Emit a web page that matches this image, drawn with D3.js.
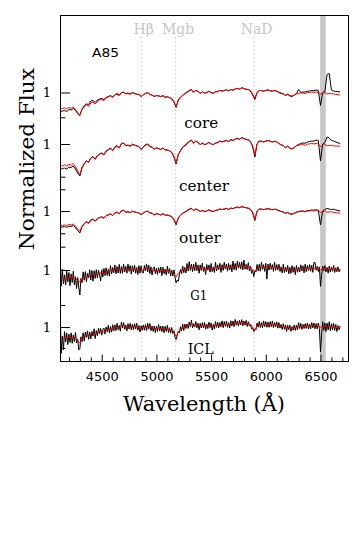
<!DOCTYPE html>
<html><head><meta charset="utf-8">
<script src="https://cdn.jsdelivr.net/npm/d3@7"></script>
<style>html,body{margin:0;padding:0;background:#fff}</style>
</head><body>
<svg id="c" width="360" height="540" xmlns="http://www.w3.org/2000/svg"></svg>
<script>
// ---------------- DATA ----------------
// wavelength grid (Angstrom), 20 A steps: models and bright spectra
const wlA = [4120,4140,4160,4180,4200,4220,4240,4260,4280,4300,
4320,4340,4360,4380,4400,4420,4440,4460,4480,4500,
4520,4540,4560,4580,4600,4620,4640,4660,4680,4700,
4720,4740,4760,4780,4800,4820,4840,4860,4880,4900,
4920,4940,4960,4980,5000,5020,5040,5060,5080,5100,
5120,5140,5160,5180,5200,5220,5240,5260,5280,5300,
5320,5340,5360,5380,5400,5420,5440,5460,5480,5500,
5520,5540,5560,5580,5600,5620,5640,5660,5680,5700,
5720,5740,5760,5780,5800,5820,5840,5860,5880,5900,
5920,5940,5960,5980,6000,6020,6040,6060,6080,6100,
6120,6140,6160,6180,6200,6220,6240,6260,6280,6300,
6320,6340,6360,6380,6400,6420,6440,6460,6480,6500,
6520,6540,6560,6580,6600,6620,6640,6660,6680];
// wavelength grid (Angstrom), 10 A steps: noisy faint spectra
const wlB = [4120,4130,4140,4150,4160,4170,4180,4190,4200,4210,
4220,4230,4240,4250,4260,4270,4280,4290,4300,4310,
4320,4330,4340,4350,4360,4370,4380,4390,4400,4410,
4420,4430,4440,4450,4460,4470,4480,4490,4500,4510,
4520,4530,4540,4550,4560,4570,4580,4590,4600,4610,
4620,4630,4640,4650,4660,4670,4680,4690,4700,4710,
4720,4730,4740,4750,4760,4770,4780,4790,4800,4810,
4820,4830,4840,4850,4860,4870,4880,4890,4900,4910,
4920,4930,4940,4950,4960,4970,4980,4990,5000,5010,
5020,5030,5040,5050,5060,5070,5080,5090,5100,5110,
5120,5130,5140,5150,5160,5170,5180,5190,5200,5210,
5220,5230,5240,5250,5260,5270,5280,5290,5300,5310,
5320,5330,5340,5350,5360,5370,5380,5390,5400,5410,
5420,5430,5440,5450,5460,5470,5480,5490,5500,5510,
5520,5530,5540,5550,5560,5570,5580,5590,5600,5610,
5620,5630,5640,5650,5660,5670,5680,5690,5700,5710,
5720,5730,5740,5750,5760,5770,5780,5790,5800,5810,
5820,5830,5840,5850,5860,5870,5880,5890,5900,5910,
5920,5930,5940,5950,5960,5970,5980,5990,6000,6010,
6020,6030,6040,6050,6060,6070,6080,6090,6100,6110,
6120,6130,6140,6150,6160,6170,6180,6190,6200,6210,
6220,6230,6240,6250,6260,6270,6280,6290,6300,6310,
6320,6330,6340,6350,6360,6370,6380,6390,6400,6410,
6420,6430,6440,6450,6460,6470,6480,6490,6500,6510,
6520,6530,6540,6550,6560,6570,6580,6590,6600,6610,
6620,6630,6640,6650,6660,6670,6680];

// core
const coreObs = [.81,.815,.82,.81,.83,.825,.84,.82,.79,.77,
.835,.87,.885,.88,.915,.92,.9,.925,.935,.94,
.93,.95,.96,.97,.955,.978,.99,.972,.998,1.0,
.99,.995,.985,1.0,.992,.98,.982,.958,.978,.99,
1.0,.982,.972,.962,.968,.967,.96,.968,.95,.958,
.948,.935,.905,.85,.925,.955,.97,.99,1.005,1.02,
1.03,1.0,1.025,1.012,.99,1.008,.992,1.0,1.015,.998,
.993,1.008,1.01,1.022,1.013,1.02,1.028,1.015,1.03,1.022,
1.035,1.042,1.033,1.048,1.04,1.03,1.03,1.015,.975,.93,
.998,1.022,1.018,1.012,1.022,1.025,1.018,1.012,1.02,1.012,
1.0,.99,.985,.97,.98,.965,.96,.975,.99,1.03,
1.0,1.005,1.005,1.012,1.015,1.02,1.018,1.025,1.02,.87,
1.0,1.01,1.18,1.19,1.025,1.015,1.01,1.008,1.005];
const coreModel = [.835,.84,.845,.838,.85,.843,.855,.832,.80,.775,
.83,.855,.875,.862,.895,.905,.885,.91,.925,.93,
.918,.945,.955,.965,.95,.975,.982,.968,1.0,1.005,
.985,.99,.983,.995,.99,.985,.98,.962,.975,.992,
.995,.98,.975,.96,.97,.965,.958,.97,.955,.955,
.95,.94,.91,.86,.92,.95,.975,.985,1.0,1.015,
1.025,1.005,1.02,1.01,.995,1.005,.995,1.0,1.01,1.0,
.995,1.005,1.01,1.02,1.015,1.02,1.025,1.018,1.03,1.025,
1.035,1.04,1.035,1.045,1.04,1.035,1.03,1.02,.985,.945,
1.0,1.02,1.02,1.015,1.02,1.025,1.02,1.015,1.02,1.015,
1.005,.995,.99,.975,.985,.97,.965,.975,.985,.99,
.995,.995,.99,1.0,1.0,1.005,1.0,1.005,1.0,.985,
.99,1.0,.985,.99,.99,.985,.98,.978,.975];

// center
const centerObs = [.745,.755,.76,.75,.77,.765,.78,.75,.71,.68,
.76,.8,.83,.82,.86,.875,.85,.885,.9,.91,
.895,.93,.945,.96,.935,.97,.985,.96,1.005,1.01,
.985,.99,.98,.998,.99,.982,.975,.945,.97,.995,
1.0,.978,.97,.95,.962,.955,.945,.962,.94,.942,
.93,.915,.87,.8,.895,.935,.97,.985,1.008,1.025,
1.04,1.01,1.03,1.018,.995,1.01,.995,1.002,1.018,1.0,
.995,1.01,1.015,1.03,1.022,1.03,1.036,1.025,1.045,1.035,
1.05,1.058,1.048,1.065,1.055,1.045,1.04,1.025,.97,.87,
1.0,1.03,1.028,1.02,1.03,1.036,1.028,1.02,1.028,1.02,
1.005,.99,.983,.962,.978,.955,.95,.965,.985,.995,
1.005,1.01,1.008,1.02,1.025,1.03,1.028,1.04,1.035,.83,
1.0,1.015,1.07,1.06,1.035,1.03,1.02,1.012,1.005];
const centerModel = [.777,.784,.791,.781,.797,.788,.804,.773,.73,.696,
.77,.804,.831,.814,.858,.872,.845,.878,.899,.905,
.889,.926,.939,.953,.932,.966,.976,.957,1.0,1.007,
.98,.986,.977,.993,.986,.98,.973,.949,.966,.989,
.993,.973,.966,.946,.96,.953,.943,.96,.939,.939,
.932,.919,.878,.811,.892,.932,.966,.98,1.0,1.02,
1.034,1.007,1.027,1.014,.993,1.007,.993,1.0,1.014,1.0,
.993,1.007,1.014,1.027,1.02,1.027,1.034,1.024,1.041,1.034,
1.047,1.054,1.047,1.061,1.054,1.047,1.041,1.027,.98,.895,
1.0,1.027,1.027,1.02,1.027,1.034,1.027,1.02,1.027,1.02,
1.007,.993,.986,.966,.98,.96,.953,.966,.98,.986,
.993,.993,.986,1.0,1.0,1.007,1.0,1.007,1.0,.975,
.986,1.0,.98,.986,.986,.982,.98,.978,.978];

// outer
const outerObs = [.835,.84,.845,.835,.85,.845,.855,.835,.805,.78,
.845,.875,.895,.88,.912,.92,.9,.925,.935,.942,
.93,.955,.962,.972,.955,.982,.99,.972,1.002,1.008,
.988,.993,.984,.998,.99,.985,.98,.962,.98,.995,
.998,.98,.976,.96,.972,.968,.96,.972,.958,.958,
.952,.942,.912,.862,.93,.958,.98,.99,1.005,1.018,
1.028,1.005,1.022,1.01,.995,1.006,.995,1.0,1.012,1.0,
.995,1.006,1.01,1.02,1.015,1.02,1.026,1.015,1.03,1.024,
1.034,1.04,1.034,1.045,1.038,1.033,1.028,1.016,.98,.905,
.998,1.02,1.02,1.013,1.02,1.024,1.017,1.012,1.018,1.013,
1.003,.994,.988,.975,.985,.97,.966,.976,.988,.995,
1.0,1.0,.995,1.005,1.005,1.01,1.008,1.012,1.008,.86,
1.0,1.015,1.025,1.02,1.015,1.018,1.01,1.005,1.0];
const outerModel = [.852,.856,.861,.854,.865,.859,.87,.849,.82,.798,
.847,.87,.888,.876,.906,.915,.897,.919,.933,.937,
.926,.951,.96,.969,.955,.978,.984,.971,1.0,1.005,
.987,.991,.985,.996,.991,.987,.982,.966,.978,.993,
.996,.982,.978,.964,.973,.969,.962,.973,.96,.96,
.955,.946,.919,.874,.928,.955,.978,.987,1.0,1.014,
1.023,1.005,1.018,1.009,.996,1.005,.996,1.0,1.009,1.0,
.996,1.005,1.009,1.018,1.014,1.018,1.023,1.016,1.027,1.023,
1.032,1.036,1.032,1.041,1.036,1.032,1.027,1.018,.987,.92,
1.0,1.018,1.018,1.014,1.018,1.023,1.018,1.014,1.018,1.014,
1.005,.996,.991,.978,.987,.973,.969,.978,.987,.991,
.996,.996,.991,1.0,1.0,1.005,1.0,1.005,1.0,.987,
.991,1.0,.987,.991,.991,.987,.982,.98,.978];

// G1 (observed on 10 A grid)
const g1Obs = [1.116,.838,1.009,.861,.952,.85,.988,.882,.975,.843,
.961,.875,.988,.851,.934,.815,.925,.828,.75,.917,
.873,.981,.898,.984,.88,.966,.922,1.002,.902,.995,
.888,.992,.916,1.004,.921,.996,.95,.892,1.003,.93,
1.016,.944,1.022,.945,1.008,.941,1.044,.96,1.025,.973,
1.05,.962,1.034,.97,1.056,.966,1.035,.967,1.058,.982,
1.036,.968,1.059,.987,1.045,.959,1.042,.981,1.049,.968,
1.026,.955,1.043,.968,1.042,.976,.97,1.045,.99,1.061,
.982,1.048,.963,1.032,.95,1.016,1.031,.964,1.017,.956,
1.024,.972,1.03,.944,1.027,.963,1.008,.948,1.038,.967,
1.015,.942,.999,.94,1.001,.926,.871,.899,.887,.956,
1.005,.963,1.04,.973,1.026,.971,1.065,.99,1.084,.997,
1.06,.984,1.058,.993,1.077,.994,1.051,.967,1.052,.995,
1.068,.985,1.032,.954,1.055,.998,1.051,.978,1.065,.984,
1.032,.975,1.078,.99,1.051,1.004,1.067,.976,1.054,.996,
1.077,1.009,1.06,.988,1.066,1.0,1.053,.982,1.09,1.003,
1.066,.998,1.089,1.018,1.076,1.009,1.082,1.001,1.099,1.008,
1.056,1.005,1.073,.99,1.037,.967,.996,.934,.992,.979,
1.055,.991,1.057,.987,1.077,1.006,1.054,.986,1.067,.909,
1.06,.999,1.067,1.006,1.054,.986,1.077,.996,1.054,1.001,
1.058,.985,1.032,.971,1.059,.975,1.03,.983,1.046,.962,
1.027,.966,1.044,.977,1.03,.953,1.046,.978,1.029,.981,
1.052,.992,1.042,.971,1.059,.982,1.045,.995,1.055,.987,
1.048,.977,1.075,1.077,.998,1.037,.985,1.031,.836,.948,
1.039,.992,1.045,.981,1.026,.968,1.039,.979,1.029,.988,
1.046,.975,1.023,.983,1.032,.981,1.01];
const g1Model = [.916,.919,.922,.918,.925,.921,.928,.914,.895,.88,
.913,.928,.94,.932,.952,.958,.946,.961,.97,.973,
.966,.982,.988,.994,.985,1.0,1.004,.996,1.015,1.018,
1.006,1.009,1.005,1.012,1.009,1.006,1.003,.992,1.0,1.01,
1.012,1.003,1.0,.991,.997,.994,.99,.997,.988,.988,
.985,.979,.961,.931,.967,.985,1.0,1.006,1.015,1.024,
1.03,1.018,1.027,1.021,1.012,1.018,1.012,1.015,1.021,1.015,
1.012,1.018,1.021,1.027,1.024,1.027,1.03,1.026,1.033,1.03,
1.036,1.039,1.036,1.042,1.039,1.036,1.033,1.027,1.006,.982,
1.015,1.027,1.027,1.024,1.027,1.03,1.027,1.024,1.027,1.024,
1.018,1.012,1.009,1.0,1.006,.997,.994,1.0,1.006,1.009,
1.012,1.012,1.009,1.015,1.015,1.018,1.015,1.018,1.015,1.006,
1.009,1.015,1.006,1.009,1.009,1.006,1.003,1.002,1.0];

// ICL (observed on 10 A grid)
const iclObs = [1.136,.738,.91,.772,.954,.852,.939,.824,.928,.845,
.942,.837,.921,.853,.944,.842,.88,.771,.781,.902,
.853,.942,.861,.949,.896,.962,.877,.949,.881,.955,
.909,.982,.884,.964,.913,.989,.934,.986,.918,.974,
.989,.929,.999,.953,1.016,.94,1.004,.949,1.023,.962,
1.021,.964,1.037,.972,1.016,.958,1.05,.992,1.044,.977,
1.019,.961,1.033,.98,1.037,.972,1.026,.975,1.033,.981,
1.039,.967,1.015,.949,1.012,.967,1.021,.968,1.024,.965,
1.036,.981,1.035,.963,1.011,.956,1.01,.944,1.008,.956,
1.024,.962,1.009,.954,1.008,.942,1.006,.956,1.016,.945,
.993,.939,.995,.934,.963,.894,.875,.918,.96,.942,
1.003,.962,1.031,.965,1.029,.985,1.03,.986,1.051,1.005,
1.069,.992,1.034,1.0,1.055,.992,1.038,.972,1.036,.99,
1.044,.99,1.046,.978,1.03,.984,1.048,.994,1.04,.968,
1.026,.98,1.054,.996,1.048,.992,1.045,1.003,1.061,.993,
1.055,1.007,1.059,.997,1.044,.989,1.063,1.011,1.059,1.003,
1.076,1.018,1.06,1.008,1.066,1.02,1.074,1.012,1.06,1.018,
1.066,1.005,1.053,1.009,1.025,.982,.989,.954,.979,.97,
1.04,.998,1.055,.995,1.045,.993,1.061,1.003,1.055,.997,
1.049,.997,1.055,1.003,1.061,.993,1.045,1.003,1.051,.988,
1.044,.99,1.026,.975,1.033,.977,1.021,.955,1.019,.974,
1.018,.956,1.004,.968,1.021,.965,1.019,.971,1.043,.985,
1.036,.976,1.026,.985,1.033,.987,1.04,.98,1.03,.982,
1.044,.992,1.04,.982,1.034,.982,1.04,.985,.749,.921,
1.053,.967,1.04,.955,1.039,.971,1.053,.963,1.033,.971,
1.039,.967,1.025,.955,1.014,.973,1.011];
const iclModel = [.886,.89,.894,.889,.898,.892,.901,.884,.86,.841,
.883,.901,.916,.907,.931,.939,.924,.943,.954,.958,
.949,.969,.976,.984,.973,.991,.997,.986,1.01,1.014,
.999,1.003,.997,1.006,1.003,.999,.995,.982,.991,1.004,
1.006,.995,.991,.98,.988,.984,.979,.988,.976,.976,
.973,.965,.943,.905,.95,.973,.991,.999,1.01,1.021,
1.029,1.014,1.025,1.018,1.006,1.014,1.006,1.01,1.018,1.01,
1.006,1.014,1.018,1.025,1.021,1.025,1.029,1.024,1.033,1.029,
1.036,1.04,1.036,1.044,1.04,1.036,1.033,1.025,.999,.969,
1.01,1.025,1.025,1.021,1.025,1.029,1.025,1.021,1.025,1.021,
1.014,1.006,1.003,.991,.999,.988,.984,.991,.999,1.003,
1.006,1.006,1.003,1.01,1.01,1.014,1.01,1.014,1.01,.999,
1.003,1.01,.999,1.003,1.003,.999,.995,.994,.991];

const spectrumNames = ["core","center","outer","G1","ICL"];
const obsSeries = [coreObs, centerObs, outerObs, g1Obs, iclObs];
const obsGrids = [wlA, wlA, wlA, wlB, wlB];
const modelSeries = [coreModel, centerModel, outerModel, g1Model, iclModel];
// offset-axis value where each spectrum's normalized flux equals 1
const unityLevels = [2.69, 2.175, 1.505, 0.915, 0.345];
const unityLabel = "1";
const yMinorTicks = [2.442, 1.848, 1.722, 1.282, 1.148, 0.565, 0.135];
const xMajorTicks = [4500, 5000, 5500, 6000, 6500];
const xMinorTicks = [4200,4300,4400,4600,4700,4800,4900,5100,5200,5300,5400,
5600,5700,5800,5900,6100,6200,6300,6400,6600,6700];
const featureNames = ["H\u03B2", "Mgb", "NaD"];
const featureWl = [4861, 5175, 5893];
const maskedRange = [6496, 6548];
const clusterName = "A85";

// ---------------- LAYOUT ----------------
const svg = d3.select("#c");
svg.append("rect").attr("width",360).attr("height",540).attr("fill","#fff");
const L = 60.5, R = 348.5, T = 15.5, B = 361.5;
const x = d3.scaleLinear().domain([4123, 6756]).range([L, R]);
const y = d3.scaleLinear().domain([0, 3.46]).range([B, T]);
const GRAY = "#c6c6c6";
const serif = "'DejaVu Serif', serif";
const sans = "'DejaVu Sans', sans-serif";

svg.append("defs").append("clipPath").attr("id","clip")
  .append("rect").attr("x",L).attr("y",T).attr("width",R-L).attr("height",B-T);

// masked band
svg.append("rect")
  .attr("x", x(maskedRange[0])).attr("y", T)
  .attr("width", x(maskedRange[1]) - x(maskedRange[0])).attr("height", B - T)
  .attr("fill", "#c8c8c8");

// feature lines and labels
const featG = svg.append("g");
featureWl.forEach((w, i) => {
  featG.append("line")
    .attr("x1", x(w)).attr("x2", x(w)).attr("y1", 37).attr("y2", B)
    .attr("stroke", GRAY).attr("stroke-width", 1).attr("stroke-dasharray", "1.5,2.5");
  featG.append("text")
    .attr("x", x(w) + 2.5).attr("y", 34)
    .attr("text-anchor", "middle")
    .attr("font-family", serif).attr("font-size", 14)
    .attr("fill", GRAY)
    .text(featureNames[i]);
});

// spectra
const specG = svg.append("g").attr("clip-path", "url(#clip)");
spectrumNames.forEach((name, k) => {
  const lvl = unityLevels[k];
  const line = d3.line()
    .x(d => x(d[0]))
    .y(d => y(lvl + d[1] - 1));
  const obs = d3.zip(obsGrids[k], obsSeries[k]);
  const mod = d3.zip(wlA, modelSeries[k]);
  specG.append("path").datum(obs).attr("d", line)
    .attr("fill", "none").attr("stroke", "#000").attr("stroke-width", 1)
    .attr("stroke-linejoin", "round");
  specG.append("path").datum(mod).attr("d", line)
    .attr("fill", "none").attr("stroke", "#ff0000").attr("stroke-width", 1)
    .attr("stroke-linejoin", "round");
});

// spectrum names
const nameLayout = [
  {x: 201.3, y: 127.7, w: 34, f: serif, s: 15},
  {x: 204, y: 190.5, w: 50, f: serif, s: 15},
  {x: 200, y: 243.3, w: 42, f: serif, s: 15},
  {x: 198.7, y: 300, w: 17, f: serif, s: 13},
  {x: 200.7, y: 354, w: 26, f: serif, s: 14}
];
spectrumNames.forEach((name, k) => {
  const p = nameLayout[k];
  svg.append("text").attr("x", p.x).attr("y", p.y)
    .attr("text-anchor", "middle")
    .attr("font-family", p.f).attr("font-size", p.s)
    .attr("textLength", p.w).attr("lengthAdjust", "spacingAndGlyphs")
    .attr("fill", "#000").text(name);
});
svg.append("text").attr("x", 105.5).attr("y", 57)
  .attr("text-anchor", "middle").attr("font-family", sans).attr("font-size", 12.5)
  .attr("textLength", 27).attr("lengthAdjust", "spacingAndGlyphs")
  .attr("fill", "#000").text(clusterName);

// frame
svg.append("rect").attr("x", L).attr("y", T).attr("width", R - L).attr("height", B - T)
  .attr("fill", "none").attr("stroke", "#000").attr("stroke-width", 1);

// bottom axis: major ticks with labels
const xAxisMajor = svg.append("g").attr("transform", `translate(0,${B})`)
  .call(d3.axisBottom(x).tickValues(xMajorTicks).tickSize(-7).tickPadding(10)
    .tickFormat(d3.format("d")));
const xAxisMinor = svg.append("g").attr("transform", `translate(0,${B})`)
  .call(d3.axisBottom(x).tickValues(xMinorTicks).tickSize(-4).tickFormat(""));
[xAxisMajor, xAxisMinor].forEach(g => {
  g.select(".domain").remove();
  g.selectAll(".tick line").attr("stroke", "#000").attr("stroke-width", 1);
});
xAxisMajor.selectAll(".tick text")
  .attr("font-family", sans).attr("font-size", 13).attr("fill", "#000");

// left axis
const yAxisMajor = svg.append("g").attr("transform", `translate(${L},0)`)
  .call(d3.axisLeft(y).tickValues(unityLevels).tickSize(-9.5).tickPadding(9.5)
    .tickFormat(() => unityLabel));
const yAxisMinor = svg.append("g").attr("transform", `translate(${L},0)`)
  .call(d3.axisLeft(y).tickValues(yMinorTicks).tickSize(-5).tickFormat(""));
[yAxisMajor, yAxisMinor].forEach(g => {
  g.select(".domain").remove();
  g.selectAll(".tick line").attr("stroke", "#000").attr("stroke-width", 1);
});
yAxisMajor.selectAll(".tick text")
  .attr("font-family", serif).attr("font-size", 13).attr("fill", "#000");

// axis titles
svg.append("text").attr("x", 204).attr("y", 411)
  .attr("text-anchor", "middle").attr("font-family", serif).attr("font-size", 20)
  .attr("textLength", 162).attr("lengthAdjust", "spacingAndGlyphs")
  .attr("fill", "#000").text("Wavelength (\u00C5)");
svg.append("text").attr("transform", "translate(33.5,159.2) rotate(-90)")
  .attr("text-anchor", "middle").attr("font-family", serif).attr("font-size", 20)
  .attr("textLength", 182).attr("lengthAdjust", "spacingAndGlyphs")
  .attr("fill", "#000").text("Normalized Flux");
</script>
</body></html>
